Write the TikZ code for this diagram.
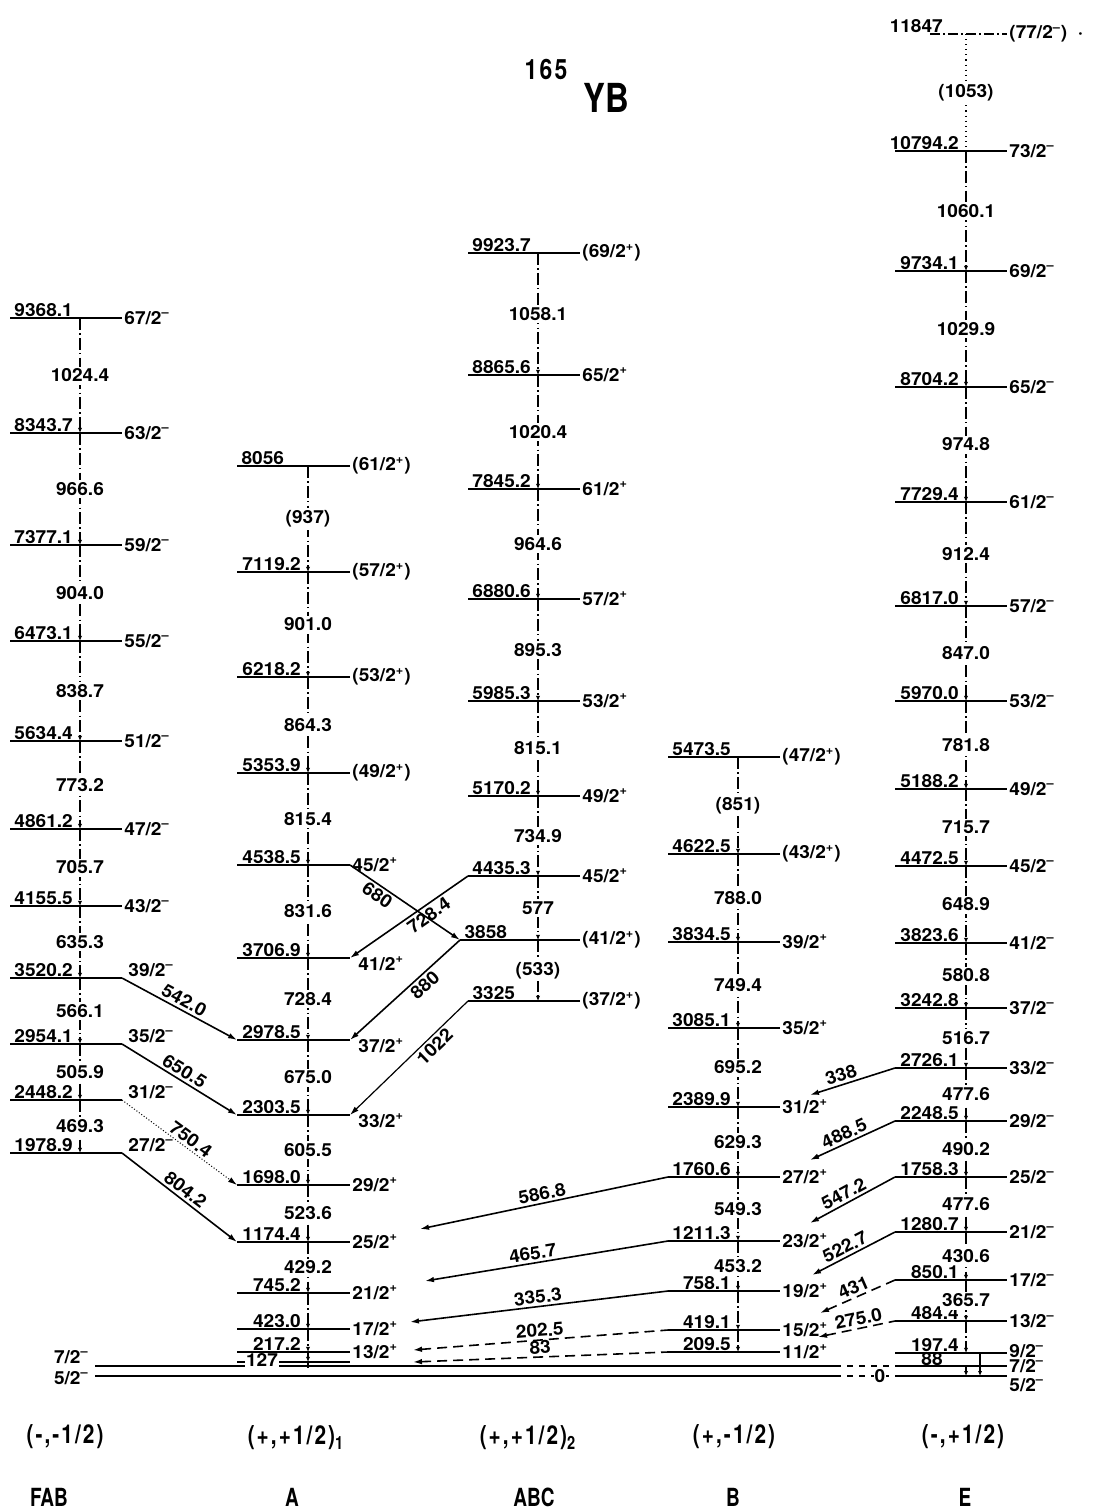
\documentclass[tikz,border=0pt]{standalone}
\usepackage{fontspec}
\setmainfont{TeX Gyre Heros}[FakeStretch=1.06]
\newfontfamily\bandfont{texgyreheros-bold.otf}[FakeStretch=0.8,LetterSpace=8]
\newfontfamily\namefont{texgyreheros-bold.otf}[FakeStretch=0.76]
\newfontfamily\titlefont{texgyreheros-bold.otf}[FakeStretch=0.82]
\usetikzlibrary{arrows.meta}

% superscript parity signs
\newcommand\pl{\textsuperscript{+}}
\newcommand\mn{\textsuperscript{–}}
\newcommand\lblfont{\bfseries\fontsize{9}{10}\selectfont}

\tikzset{
  levelline/.style={line width=1pt},
  elab/.style={anchor=south east, inner sep=0.6pt, xshift=-2.8pt, font=\lblfont},
  elabL/.style={anchor=south west, inner sep=0.6pt, xshift=1.5pt, font=\lblfont},
  slab/.style={anchor=west, inner sep=1pt, font=\lblfont},
  sabove/.style={anchor=south west, xshift=2pt, yshift=-0.6pt},
  sbelow/.style={xshift=3pt, yshift=-3pt},
  glab/.style={fill=white, inner sep=1.2pt, font=\lblfont},
  cascade/.style={line width=0.6pt, dash pattern=on 6pt off 1.6pt on 0.7pt off 1.6pt,
                  -{Latex[length=2.6pt,width=2.2pt]}},
  link/.style={line width=0.8pt, -{Latex[length=4.5pt,width=2.8pt]}},
  linkback/.style={line width=0.8pt, {Latex[length=4.5pt,width=2.8pt]}-},
  weak/.style={dash pattern=on 5pt off 3pt},
  tlab/.style={sloped, inner sep=1.2pt, font=\lblfont},
}

% a level: name, left x, right x, height, x of the cascade line, energy, spin
\newcommand\lv[8][]{%
  \coordinate (#2L) at (#3,#5);
  \coordinate (#2R) at (#4,#5);
  \coordinate (#2C) at (#6,#5);
  \draw[levelline] (#2L) -- (#2R);
  \node[elab] (#2e) at (#2C) {#7};
  \node[slab,#1] (#2s) at (#2R) {#8};}
\newcommand\fab[5][]{\lv[#1]{#2}{10}{122}{#3}{80}{#4}{#5}}
\newcommand\cola[5][]{\lv[#1]{#2}{237}{350}{#3}{308}{#4}{#5}}
\newcommand\colabc[5][]{\lv[#1]{#2}{468}{580}{#3}{538}{#4}{#5}}
\newcommand\colb[5][]{\lv[#1]{#2}{668}{780}{#3}{738}{#4}{#5}}
\newcommand\cole[5][]{\lv[#1]{#2}{895}{1007}{#3}{966}{#4}{#5}}
% a gamma transition down a band
\newcommand\casc[3]{\draw[cascade] (#1C) -- node[glab]{#3} (#2C);}
\newcommand\cascn[2]{\draw[cascade] (#1C) -- (#2C);}

\begin{document}
\begin{tikzpicture}[x=0.5pt,y=-0.5pt]
\useasboundingbox (0,0) rectangle (1092,1509);

% title
\node[font=\titlefont\fontsize{14}{14}\selectfont\addfontfeature{LetterSpace=8}] (t165) at (546,69) {165};
\node[font=\titlefont\fontsize{20}{20}\selectfont] (tYB) at (606,98) {YB};

% ground states
\coordinate (g7L) at (95,1366);  \coordinate (g7M) at (835,1366);
\coordinate (g7E) at (895,1366); \coordinate (g7R) at (1007,1366);
\coordinate (g5L) at (95,1376);  \coordinate (g5M) at (835,1376);
\coordinate (g5E) at (895,1376); \coordinate (g5R) at (1007,1376);
\draw[levelline] (g7L) -- (g7M); \draw[levelline,dashed] (g7M) -- (g7E); \draw[levelline] (g7E) -- (g7R);
\draw[levelline] (g5L) -- (g5M); \draw[levelline,dashed] (g5M) -- (g5E); \draw[levelline] (g5E) -- (g5R);
\node[font=\lblfont, anchor=south east, inner sep=1pt, xshift=-2pt] (g7s) at (g7L) {7/2\mn};
\node[font=\lblfont, anchor=east, inner sep=1pt, xshift=-2pt, yshift=-1pt] (g5s) at (g5L) {5/2\mn};
\node[font=\lblfont, fill=white, inner sep=0.3pt] (g0) at (880,1376) {0};
\node[slab] (g7sE) at (g7R) {7/2\mn};
\node[slab, yshift=-4.5pt] (g5sE) at (g5R) {5/2\mn};

% ---- band FAB ----
\fab{fab9368}{318}{9368.1}{67/2\mn}
\fab{fab8343}{433}{8343.7}{63/2\mn}
\fab{fab7377}{545}{7377.1}{59/2\mn}
\fab{fab6473}{641}{6473.1}{55/2\mn}
\fab{fab5634}{741}{5634.4}{51/2\mn}
\fab{fab4861}{829}{4861.2}{47/2\mn}
\fab{fab4155}{906}{4155.5}{43/2\mn}
\fab[sabove]{fab3520}{978}{3520.2}{39/2\mn}
\fab[sabove]{fab2954}{1044}{2954.1}{35/2\mn}
\fab[sabove]{fab2448}{1100}{2448.2}{31/2\mn}
\fab[sabove]{fab1978}{1153}{1978.9}{27/2\mn}
\casc{fab9368}{fab8343}{1024.4}
\casc{fab8343}{fab7377}{966.6}
\casc{fab7377}{fab6473}{904.0}
\casc{fab6473}{fab5634}{838.7}
\casc{fab5634}{fab4861}{773.2}
\casc{fab4861}{fab4155}{705.7}
\casc{fab4155}{fab3520}{635.3}
\casc{fab3520}{fab2954}{566.1}
\casc{fab2954}{fab2448}{505.9}
\casc{fab2448}{fab1978}{469.3}

% ---- band A ----
\cola{a8056}{466}{}{(61/2\pl)}
\node[elabL] (a8056e) at (a8056L) {8056};
\cola{a7119}{572}{7119.2}{(57/2\pl)}
\cola{a6218}{677}{6218.2}{(53/2\pl)}
\cola{a5353}{773}{5353.9}{(49/2\pl)}
\cola{a4538}{865}{4538.5}{45/2\pl}
\cola[sbelow]{a3706}{958}{3706.9}{41/2\pl}
\cola[sbelow]{a2978}{1040}{2978.5}{37/2\pl}
\cola[sbelow]{a2303}{1115}{2303.5}{33/2\pl}
\cola{a1698}{1185}{1698.0}{29/2\pl}
\cola{a1174}{1242}{1174.4}{25/2\pl}
\cola{a745}{1293}{745.2}{21/2\pl}
\cola{a423}{1329}{423.0}{17/2\pl}
\cola{a217}{1352}{217.2}{13/2\pl}
\coordinate (a127L) at (237,1362); \coordinate (a127R) at (350,1362);
\coordinate (a127C) at (308,1362); \coordinate (a127G) at (308,1368);
\draw[line width=0.7pt] (a127L) -- (a127R);
\node[font=\lblfont, fill=white, inner sep=0.3pt] (a127e) at (262,1360) {127};
\casc{a8056}{a7119}{(937)}
\casc{a7119}{a6218}{901.0}
\casc{a6218}{a5353}{864.3}
\casc{a5353}{a4538}{815.4}
\casc{a4538}{a3706}{831.6}
\casc{a3706}{a2978}{728.4}
\casc{a2978}{a2303}{675.0}
\casc{a2303}{a1698}{605.5}
\casc{a1698}{a1174}{523.6}
\casc{a1174}{a745}{429.2}
\cascn{a745}{a423}
\cascn{a423}{a217}
\cascn{a217}{a127}
\draw[line width=0.55pt] (a127C) -- (a127G);

% ---- band ABC ----
\colabc{abc9923}{253}{9923.7}{(69/2\pl)}
\colabc{abc8865}{375}{8865.6}{65/2\pl}
\colabc{abc7845}{489}{7845.2}{61/2\pl}
\colabc{abc6880}{599}{6880.6}{57/2\pl}
\colabc{abc5985}{701}{5985.3}{53/2\pl}
\colabc{abc5170}{796}{5170.2}{49/2\pl}
\colabc{abc4435}{876}{4435.3}{45/2\pl}
\lv{abc3858}{460}{580}{940}{538}{}{(41/2\pl)}
\node[elabL] (abc3858e) at (abc3858L) {3858};
\colabc{abc3325}{1001}{}{(37/2\pl)}
\node[elabL] (abc3325e) at (abc3325L) {3325};
\casc{abc9923}{abc8865}{1058.1}
\casc{abc8865}{abc7845}{1020.4}
\casc{abc7845}{abc6880}{964.6}
\casc{abc6880}{abc5985}{895.3}
\casc{abc5985}{abc5170}{815.1}
\casc{abc5170}{abc4435}{734.9}
\casc{abc4435}{abc3858}{577}
\casc{abc3858}{abc3325}{(533)}

% ---- band B ----
\colb{b5473}{757}{5473.5}{(47/2\pl)}
\colb{b4622}{854}{4622.5}{(43/2\pl)}
\colb{b3834}{942}{3834.5}{39/2\pl}
\colb{b3085}{1028}{3085.1}{35/2\pl}
\colb{b2389}{1107}{2389.9}{31/2\pl}
\colb{b1760}{1177}{1760.6}{27/2\pl}
\colb{b1211}{1241}{1211.3}{23/2\pl}
\colb{b758}{1291}{758.1}{19/2\pl}
\colb{b419}{1330}{419.1}{15/2\pl}
\colb{b209}{1352}{209.5}{11/2\pl}
\casc{b5473}{b4622}{(851)}
\casc{b4622}{b3834}{788.0}
\casc{b3834}{b3085}{749.4}
\casc{b3085}{b2389}{695.2}
\casc{b2389}{b1760}{629.3}
\casc{b1760}{b1211}{549.3}
\casc{b1211}{b758}{453.2}
\cascn{b758}{b419}
\cascn{b419}{b209}

% ---- band E ----
\coordinate (e11847L) at (930,34); \coordinate (e11847R) at (1007,34);
\coordinate (e11847C) at (966,34);
\draw[line width=0.6pt, dash pattern=on 5pt off 1.5pt on 1pt off 1.5pt] (e11847L) -- (e11847R);
\node[elab, xshift=-8pt] (e11847e) at (e11847C) {11847};
\node[slab] (e11847s) at (e11847R) {(77/2\mn)\ \ ·};
\cole{e10794}{151}{10794.2}{73/2\mn}
\cole{e9734}{271}{9734.1}{69/2\mn}
\cole{e8704}{387}{8704.2}{65/2\mn}
\cole{e7729}{502}{7729.4}{61/2\mn}
\cole{e6817}{606}{6817.0}{57/2\mn}
\cole{e5970}{701}{5970.0}{53/2\mn}
\cole{e5188}{789}{5188.2}{49/2\mn}
\cole{e4472}{866}{4472.5}{45/2\mn}
\cole{e3823}{943}{3823.6}{41/2\mn}
\cole{e3242}{1008}{3242.8}{37/2\mn}
\cole{e2726}{1068}{2726.1}{33/2\mn}
\cole{e2248}{1121}{2248.5}{29/2\mn}
\cole{e1758}{1177}{1758.3}{25/2\mn}
\cole{e1280}{1232}{1280.7}{21/2\mn}
\cole{e850}{1280}{850.1}{17/2\mn}
\cole{e484}{1321}{484.4}{13/2\mn}
\cole[yshift=1pt]{e197}{1353}{197.4}{9/2\mn}
\node[font=\lblfont, inner sep=0.3pt] (e88) at (932,1359) {88};
\draw[line width=0.55pt, dotted] (e11847C) -- node[glab]{(1053)} (e10794C);
\casc{e10794}{e9734}{1060.1}
\casc{e9734}{e8704}{1029.9}
\casc{e8704}{e7729}{974.8}
\casc{e7729}{e6817}{912.4}
\casc{e6817}{e5970}{847.0}
\casc{e5970}{e5188}{781.8}
\casc{e5188}{e4472}{715.7}
\casc{e4472}{e3823}{648.9}
\casc{e3823}{e3242}{580.8}
\casc{e3242}{e2726}{516.7}
\casc{e2726}{e2248}{477.6}
\casc{e2248}{e1758}{490.2}
\casc{e1758}{e1280}{477.6}
\casc{e1280}{e850}{430.6}
\casc{e850}{e484}{365.7}
\cascn{e484}{e197}
% short drops to the ground doublet
\coordinate (e197X) at (980,1353); \coordinate (g5X) at (980,1376);
\coordinate (g7Y) at (966,1366);   \coordinate (g5Y) at (966,1376);
\draw[line width=0.55pt, -{Latex[length=2.4pt,width=2pt]}] (e197X) -- (g5X);
\draw[line width=0.55pt, -{Latex[length=2.4pt,width=2pt]}] (g7Y) -- (g5Y);

% ---- FAB -> A ----
\draw[link] (fab3520R) -- node[tlab,above]{542.0} (a2978L);
\draw[link] (fab2954R) -- node[tlab,above]{650.5} (a2303L);
\draw[link, line width=0.5pt, densely dotted] (fab2448R) -- node[tlab,above,pos=0.55]{750.4} (a1698L);
\draw[link] (fab1978R) -- node[tlab,above]{804.2} (a1174L);

% ---- between A and ABC ----
\draw[link] (a4538R) -- node[tlab,below,pos=0.3]{680} (abc3858L);
\draw[linkback] (a3706R) -- node[tlab,below,pos=0.62]{728.4} (abc4435L);
\draw[linkback] (a2978R) -- node[tlab,below,pos=0.62]{880} (abc3858L);
\draw[linkback, line width=0.6pt] (a2303R) -- node[tlab,below,pos=0.66]{1022} (abc3325L);

% ---- B -> A ----
\coordinate (a1174T) at (420,1229);
\coordinate (a745T) at (425,1281);
\coordinate (a423T) at (410,1322);
\coordinate (a217T) at (413,1350);
\coordinate (a127T) at (413,1362);
\draw[linkback] (a1174T) -- node[tlab,above]{586.8} (b1760L);
\draw[linkback] (a745T) -- node[tlab,above,pos=0.45]{465.7} (b1211L);
\draw[linkback] (a423T) -- node[tlab,above,pos=0.5]{335.3} (b758L);
\draw[linkback, weak] (a217T) -- node[tlab,above,pos=0.5]{202.5} (b419L);
\draw[linkback, weak] (a127T) -- node[tlab,above,pos=0.5]{83} (b209L);

% ---- E -> B ----
\coordinate (b2389T) at (810,1095);
\coordinate (b1760T) at (810,1160);
\coordinate (b1211T) at (810,1223);
\coordinate (b758T) at (812,1275);
\coordinate (b419T) at (820,1313);
\coordinate (b209T) at (818,1337);
\draw[linkback] (b2389T) -- node[tlab,above,pos=0.4]{338} (e2726L);
\draw[linkback] (b1760T) -- node[tlab,above,pos=0.45]{488.5} (e2248L);
\draw[linkback] (b1211T) -- node[tlab,above,pos=0.45]{547.2} (e1758L);
\draw[linkback] (b758T) -- node[tlab,above,pos=0.45]{522.7} (e1280L);
\draw[linkback, weak] (b419T) -- node[tlab,above,pos=0.5]{431} (e850L);
\draw[linkback, weak] (b209T) -- node[tlab,above,pos=0.55]{275.0} (e484L);

% ---- band labels ----
\tikzset{bandlab/.style={font=\bandfont\fontsize{13}{13}\selectfont, inner sep=0pt},
         namelab/.style={font=\namefont\fontsize{12.5}{13}\selectfont, inner sep=0pt}}
\node[bandlab] (qFAB) at (65,1437) {(-,-1/2)};
\node[bandlab] (qA) at (296,1438) {(+,+1/2)\textsubscript{1}};
\node[bandlab] (qABC) at (528,1438) {(+,+1/2)\textsubscript{2}};
\node[bandlab] (qB) at (734,1437) {(+,-1/2)};
\node[bandlab] (qE) at (963,1437) {(-,+1/2)};
\node[namelab] (nFAB) at (49,1497) {FAB};
\node[namelab] (nA) at (292,1497) {A};
\node[namelab] (nABC) at (534,1497) {ABC};
\node[namelab] (nB) at (733,1497) {B};
\node[namelab] (nE) at (965,1497) {E};
\end{tikzpicture}
\end{document}
